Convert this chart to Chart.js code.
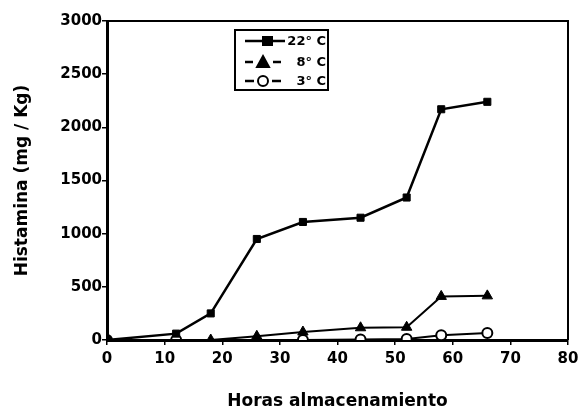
<!DOCTYPE html>
<html>
<head>
<meta charset="utf-8">
<script src="https://cdn.jsdelivr.net/npm/chart.js@4"></script>
<style>
  html, body { margin: 0; padding: 0; background: #fff; }
  #wrap { width: 581px; height: 412px; }
</style>
</head>
<body>
<div id="wrap"><canvas id="c" width="581" height="412"></canvas></div>
<script>
const hours22 = [0, 12, 18, 26, 34, 44, 52, 58, 66];
const hist22 = [0, 60, 250, 950, 1110, 1150, 1340, 2170, 2240];
const hours8 = [0, 18, 26, 34, 44, 52, 58, 66];
const hist8 = [0, 0, 35, 75, 115, 120, 410, 415];
const hours3 = [0, 12, 34, 44, 52, 58, 66];
const hist3 = [0, 0, 0, 5, 10, 45, 65];
const seriesNames = ["22° C", "8° C", "3° C"];

const FONT = "'DejaVu Sans', sans-serif";

function pts(xs, ys) {
  return xs.map((x, i) => ({ x: x, y: ys[i] }));
}

const legendBox = {
  id: "legendBox",
  afterDraw(chart) {
    const ctx = chart.ctx;
    ctx.save();
    ctx.strokeStyle = "#000";
    ctx.lineWidth = 2;
    ctx.strokeRect(235, 30, 93, 60);
    const rows = [41, 62, 81];
    const styles = ["rect", "triangle", "circle"];
    rows.forEach((y, i) => {
      ctx.lineWidth = 2.5;
      ctx.beginPath();
      ctx.moveTo(245, y);
      ctx.lineTo(i === 0 ? 285 : 281, y);
      ctx.stroke();
      ctx.fillStyle = "#000";
      ctx.lineWidth = 2;
      ctx.beginPath();
      if (styles[i] === "rect") {
        ctx.rect(263, y - 4, 9, 8);
      } else if (styles[i] === "triangle") {
        ctx.fillStyle = "#fff";
        ctx.fillRect(253, y - 6, 20, 12);
        ctx.fillStyle = "#000";
        ctx.moveTo(263, y - 6);
        ctx.lineTo(269, y + 5);
        ctx.lineTo(257, y + 5);
        ctx.closePath();
      } else {
        ctx.fillStyle = "#fff";
        ctx.fillRect(254, y - 6, 18, 12);
        ctx.beginPath();
        ctx.arc(263, y, 5, 0, Math.PI * 2);
      }
      ctx.fill();
      ctx.stroke();
      ctx.fillStyle = "#000";
      ctx.font = "bold 13px " + FONT;
      ctx.textAlign = "right";
      ctx.textBaseline = "middle";
      ctx.fillText(seriesNames[i], 326, y + 1);
    });
    ctx.restore();
  }
};

const frame = {
  id: "frame",
  afterDatasetsDraw(chart) {
    const a = chart.chartArea;
    const ctx = chart.ctx;
    ctx.save();
    ctx.strokeStyle = "#000";
    ctx.lineWidth = 2;
    ctx.beginPath();
    ctx.moveTo(a.left, a.top);
    ctx.lineTo(a.right, a.top);
    ctx.lineTo(a.right, a.bottom);
    ctx.stroke();
    ctx.restore();
  }
};

new Chart(document.getElementById("c").getContext("2d"), {
  type: "line",
  data: {
    datasets: [
      {
        label: seriesNames[0],
        data: pts(hours22, hist22),
        borderColor: "#000",
        backgroundColor: "#000",
        borderWidth: 2.5,
        pointStyle: "rect",
        pointRadius: 5,
        pointBorderWidth: 1,
        tension: 0
      },
      {
        label: seriesNames[1],
        data: pts(hours8, hist8),
        borderColor: "#000",
        backgroundColor: "#000",
        borderWidth: 2,
        pointStyle: "triangle",
        pointRadius: 6,
        pointBorderWidth: 1,
        tension: 0
      },
      {
        label: seriesNames[2],
        data: pts(hours3, hist3),
        borderColor: "#000",
        backgroundColor: "#fff",
        borderWidth: 2,
        pointStyle: "circle",
        pointRadius: 5,
        pointBorderWidth: 2,
        tension: 0
      }
    ]
  },
  options: {
    responsive: false,
    animation: false,
    layout: { padding: { top: 21, right: 13, left: 0, bottom: 0 } },
    plugins: { legend: { display: false }, tooltip: { enabled: false } },
    scales: {
      x: {
        type: "linear",
        min: 0,
        max: 80,
        ticks: {
          stepSize: 10,
          color: "#000",
          padding: 5,
          callback: v => String(v),
          font: { family: FONT, size: 15, weight: "bold" }
        },
        grid: { display: true, drawOnChartArea: false, drawTicks: true, tickLength: 5, color: "#000", lineWidth: 1.5 },
        border: { display: true, color: "#000", width: 3 },
        title: {
          display: true,
          text: "Horas almacenamiento",
          color: "#000",
          font: { family: FONT, size: 17, weight: "bold" },
          padding: { top: 20, bottom: 0 }
        },
        afterFit(scale) {
          scale.height = 72;
          scale.paddingRight = 0;
          scale.paddingLeft = 0;
        }
      },
      y: {
        min: 0,
        max: 3000,
        ticks: {
          stepSize: 500,
          color: "#000",
          padding: 0,
          callback: v => String(v),
          font: { family: FONT, size: 15, weight: "bold" }
        },
        grid: { display: true, drawOnChartArea: false, drawTicks: true, tickLength: 5, color: "#000", lineWidth: 1.5 },
        border: { display: true, color: "#000", width: 3 },
        title: {
          display: true,
          text: "Histamina (mg / Kg)",
          color: "#000",
          font: { family: FONT, size: 17, weight: "bold" },
          padding: { top: 12, bottom: 0 }
        },
        afterFit(scale) { scale.width = 107; }
      }
    }
  },
  plugins: [frame, legendBox]
});
</script>
</body>
</html>
